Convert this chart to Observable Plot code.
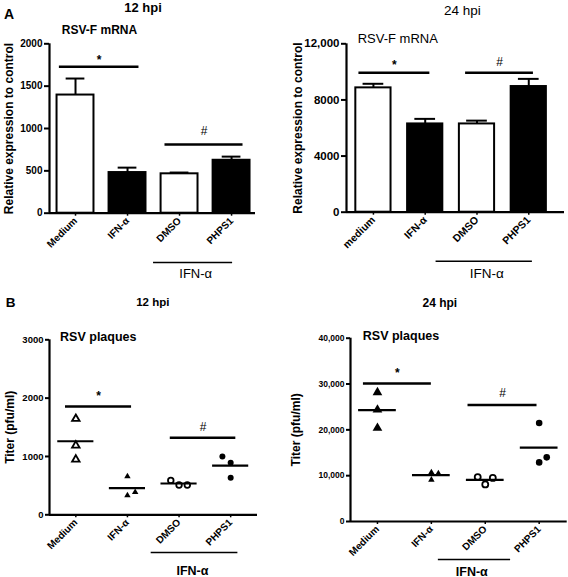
<!DOCTYPE html>
<html><head><meta charset="utf-8">
<script src="https://cdn.jsdelivr.net/npm/d3@7"></script>
<script src="https://cdn.jsdelivr.net/npm/@observablehq/plot@0.6"></script>
<style>
body{margin:0;background:#fff;}
#fig{position:relative;width:568px;height:577px;overflow:hidden;font-family:"Liberation Sans",Arial,sans-serif;color:#000;}
.panel{position:absolute;}
.lbl{position:absolute;white-space:nowrap;line-height:1;transform:translate(-50%,-50%);}
</style></head><body><div id="fig"></div>
<script>
// ---------- data ----------
const catsA12 = ["Medium", "IFN-α", "DMSO", "PHPS1"];
const catsA24 = ["medium", "IFN-α", "DMSO", "PHPS1"];
const catsB = ["Medium", "IFN-α", "DMSO", "PHPS1"];
const barKind = ["open", "filled", "open", "filled"];

const mrna12Mean = [1395, 480, 465, 625];
const mrna12Upper = [1590, 538, 480, 668];
const mrna24Mean = [8860, 6290, 6290, 8955];
const mrna24Upper = [9150, 6650, 6525, 9500];

const plaques12Medium = [1646, 1188, 948];
const plaques12IFN = [657, 331, 388];
const plaques12DMSO = [590, 510, 510];
const plaques12PHPS1 = [1000, 891, 634];
const plaques24Medium = [28170, 24390, 20400];
const plaques24IFN = [10700, 10500, 9100];
const plaques24DMSO = [9700, 8100, 9500];
const plaques24PHPS1 = [21500, 12900, 14000];

const ticksA12 = [0, 500, 1000, 1500, 2000];
const ticksA24 = [0, 4000, 8000, 12000];
const ticksB12 = [0, 1000, 2000, 3000];
const ticksB24 = [0, 10000, 20000, 30000, 40000];

// significance bars: from/to in category units, level in data units
const sigA12 = [{from: -0.31, to: 1.22, y: 1730, label: "*"}, {from: 1.72, to: 3.22, y: 810, label: "#"}];
const sigA24 = [{from: -0.28, to: 1.09, y: 9940, label: "*"}, {from: 1.78, to: 3.09, y: 9940, label: "#"}];
const sigB12 = [{from: -0.2, to: 1.08, y: 1857, label: "*"}, {from: 1.83, to: 3.1, y: 1320, label: "#"}];
const sigB24 = [{from: -0.26, to: 1.0, y: 30100, label: "*"}, {from: 1.68, to: 2.96, y: 25430, label: "#"}];

// ---------- helpers ----------
const FONT = "'Liberation Sans', Arial, sans-serif";
const fmtComma = d => d >= 10000 ? d3.format(",")(d) : String(d);
const fig = document.getElementById("fig");

function label(text, cx, cy, size, weight) {
  const s = document.createElement("div");
  s.className = "lbl";
  s.textContent = text;
  s.style.left = cx + "px"; s.style.top = cy + "px";
  s.style.fontSize = size + "px"; s.style.fontWeight = weight;
  fig.appendChild(s);
}

function commonMarks(c) {
  const m = [];
  m.push(Plot.axisY({ticks: c.yTicks, tickFormat: c.yFormat, tickSize: c.yTickSize, tickPadding: 2,
    fontSize: c.yFont, fontWeight: "bold", strokeWidth: 2, label: null}));
  m.push(Plot.axisX({ticks: [0, 1, 2, 3], tickFormat: i => c.cats[i], tickRotate: -45, tickSize: 3, tickPadding: 3,
    fontSize: c.xFont, fontWeight: "bold", strokeWidth: 1.5, label: null}));
  m.push(Plot.ruleX([c.xDomain[0]], {strokeWidth: 2.2}));
  m.push(Plot.ruleY([0], {strokeWidth: 2.2}));
  m.push(Plot.text([c.yLabel], {frameAnchor: "left", rotate: -90, dx: c.yLabelDx, fontSize: c.yLabelSize,
    fontWeight: "bold", text: d => d, textAnchor: "middle", lineAnchor: "middle"}));
  // significance
  m.push(Plot.ruleY(c.sig, {x1: "from", x2: "to", y: "y", strokeWidth: 2.5}));
  m.push(Plot.text(c.sig.filter(d => d.label === "*"), {x: d => (d.from + d.to) / 2, y: "y", text: "label",
    dy: c.starDy, fontSize: 12, fontWeight: "bold"}));
  m.push(Plot.text(c.sig.filter(d => d.label === "#"), {x: d => (d.from + d.to) / 2, y: "y", text: "label",
    dy: c.hashDy, fontSize: 12}));
  // IFN-α bracket under the x labels
  const br = [{a: c.bracket[0], b: c.bracket[1]}];
  m.push(Plot.ruleY(br, {x1: "a", x2: "b", y: () => 0, dy: c.bracketDy, strokeWidth: 1.6}));
  m.push(Plot.text(br, {x: d => (d.a + d.b) / 2 + c.bracketTextDx, y: () => 0, text: () => "IFN-α", dy: c.bracketTextDy,
    fontSize: c.bracketFont, fontWeight: c.bracketWeight}));
  return m;
}

function barPanel(c, means, uppers) {
  const rows = c.cats.map((cat, i) => ({i, cat, mean: means[i], up: uppers[i], kind: barKind[i]}));
  const marks = [
    Plot.ruleX(rows, {x: "i", y1: "mean", y2: "up", strokeWidth: 2}),
    Plot.ruleY(rows, {x1: d => d.i - c.capHalf, x2: d => d.i + c.capHalf, y: "up", strokeWidth: 2}),
    Plot.rectY(rows.filter(d => d.kind === "open"), {x1: d => d.i - c.barHalf, x2: d => d.i + c.barHalf, y1: 0, y2: "mean",
      fill: "white", stroke: "black", strokeWidth: 2}),
    Plot.rectY(rows.filter(d => d.kind === "filled"), {x1: d => d.i - c.barHalf, x2: d => d.i + c.barHalf, y1: 0, y2: "mean",
      fill: "black", stroke: "black", strokeWidth: 2}),
    ...commonMarks(c)
  ];
  return plotOf(c, marks);
}

function dotPanel(c, groups) {
  const pts = [];
  groups.forEach((g, i) => g.values.forEach((v, k) => pts.push({i, v, nudge: g.nudge[k]})));
  const marks = [];
  groups.forEach((g, i) => {
    const p = pts.filter(d => d.i === i);
    const open = g.symbol.endsWith("-open");
    marks.push(Plot.dot(p, {x: d => d.i + d.nudge, y: "v", symbol: open ? g.symbol.replace("-open", "") : g.symbol,
      r: g.r, fill: open ? "white" : "black", stroke: "black", strokeWidth: open ? 1.8 : 0}));
  });
  const meanRows = groups.map((g, i) => ({i, m: d3.mean(g.values)}));
  marks.push(Plot.ruleY(meanRows, {x1: d => d.i - 0.35, x2: d => d.i + 0.35, y: "m", strokeWidth: 2.2}));
  marks.push(...commonMarks(c));
  return plotOf(c, marks);
}

function plotOf(c, marks) {
  const svg = Plot.plot({
    width: 284, height: c.height,
    marginLeft: c.ml, marginRight: c.mr, marginTop: c.mt, marginBottom: c.mb,
    x: {type: "linear", domain: c.xDomain},
    y: {type: "linear", domain: c.yDomain},
    style: {fontFamily: FONT, overflow: "visible", background: "transparent", color: "black"},
    marks
  });
  const wrap = document.createElement("div");
  wrap.className = "panel";
  wrap.style.left = c.left + "px"; wrap.style.top = c.top + "px";
  wrap.appendChild(svg);
  fig.appendChild(wrap);
}

// ---------- panels ----------
barPanel({
  left: 0, top: 0, height: 285, ml: 49, mr: 29, mt: 43.3, mb: 72.3,
  xDomain: [-0.5, 3.46], yDomain: [0, 2000], yTicks: ticksA12, yFormat: d => String(d), yFont: 10, yTickSize: 5,
  cats: catsA12, xFont: 10, yLabel: "Relative expression to control", yLabelDx: -40, yLabelSize: 12,
  sig: sigA12, starDy: -7, hashDy: -13,
  bracket: [1.5, 3.02], bracketDy: 49.3, bracketTextDy: 61, bracketTextDx: 0.05, bracketFont: 13, bracketWeight: "normal",
  barHalf: 0.355, capHalf: 0.18
}, mrna12Mean, mrna12Upper);

barPanel({
  left: 284, top: 0, height: 285, ml: 62, mr: 4, mt: 43.3, mb: 73.3,
  xDomain: [-0.52, 3.69], yDomain: [0, 12000], yTicks: ticksA24, yFormat: fmtComma, yFont: 11.5, yTickSize: 5,
  cats: catsA24, xFont: 10.5, yLabel: "Relative expression to control", yLabelDx: -48.7, yLabelSize: 12,
  sig: sigA24, starDy: -8, hashDy: -11,
  bracket: [1.21, 3.07], bracketDy: 49, bracketTextDy: 61.5, bracketTextDx: 0.05, bracketFont: 13.5, bracketWeight: "normal",
  barHalf: 0.34, capHalf: 0.2
}, mrna24Mean, mrna24Upper);

dotPanel({
  left: 0, top: 285, height: 292, ml: 49, mr: 27, mt: 54.3, mb: 62.7,
  xDomain: [-0.51, 3.52], yDomain: [0, 3000], yTicks: ticksB12, yFormat: d => String(d), yFont: 9.5, yTickSize: 4,
  cats: catsB, xFont: 10, yLabel: "Titer (pfu/ml)", yLabelDx: -39, yLabelSize: 12,
  sig: sigB12, starDy: -10, hashDy: -11,
  bracket: [1.46, 3.14], bracketDy: 37.7, bracketTextDy: 56, bracketTextDx: -0.04, bracketFont: 12.5, bracketWeight: "bold"
}, [
  {values: plaques12Medium, nudge: [0, 0, 0], symbol: "triangle-open", r: 2.8},
  {values: plaques12IFN, nudge: [0, 0, 0.15], symbol: "triangle", r: 2.4},
  {values: plaques12DMSO, nudge: [-0.16, 0, 0.16], symbol: "circle-open", r: 2.8},
  {values: plaques12PHPS1, nudge: [-0.16, 0, 0], symbol: "circle", r: 3}
]);

dotPanel({
  left: 284, top: 285, height: 292, ml: 66, mr: 1.3, mt: 52.7, mb: 56,
  xDomain: [-0.5, 3.52], yDomain: [0, 40000], yTicks: ticksB24, yFormat: fmtComma, yFont: 8.5, yTickSize: 4,
  cats: catsB, xFont: 10, yLabel: "Titer (pfu/ml)", yLabelDx: -54.3, yLabelSize: 12,
  sig: sigB24, starDy: -10, hashDy: -11.5,
  bracket: [1.13, 2.47], bracketDy: 38, bracketTextDy: 50, bracketTextDx: -0.05, bracketFont: 12.5, bracketWeight: "bold"
}, [
  {values: plaques24Medium, nudge: [0, 0, 0], symbol: "triangle", r: 3.6},
  {values: plaques24IFN, nudge: [0, 0.13, 0], symbol: "triangle", r: 2.4},
  {values: plaques24DMSO, nudge: [-0.14, 0, 0.14], symbol: "circle-open", r: 3},
  {values: plaques24PHPS1, nudge: [0, 0, 0.14], symbol: "circle", r: 3.3}
]);

// ---------- titles ----------
label("A", 9, 14.3, 14, "bold");
label("12 hpi", 143, 6.9, 13, "bold");
label("RSV-F mRNA", 99.5, 29.7, 12, "bold");
label("24 hpi", 462.3, 10.8, 13.5, "normal");
label("RSV-F mRNA", 397.8, 37.5, 13, "normal");
label("B", 10.5, 302.5, 13.5, "bold");
label("12 hpi", 152.8, 302.5, 11.5, "bold");
label("RSV plaques", 98.3, 337.2, 12.5, "bold");
label("24 hpi", 439.8, 303, 12, "bold");
label("RSV plaques", 401, 336, 12.5, "bold");
</script></body></html>
